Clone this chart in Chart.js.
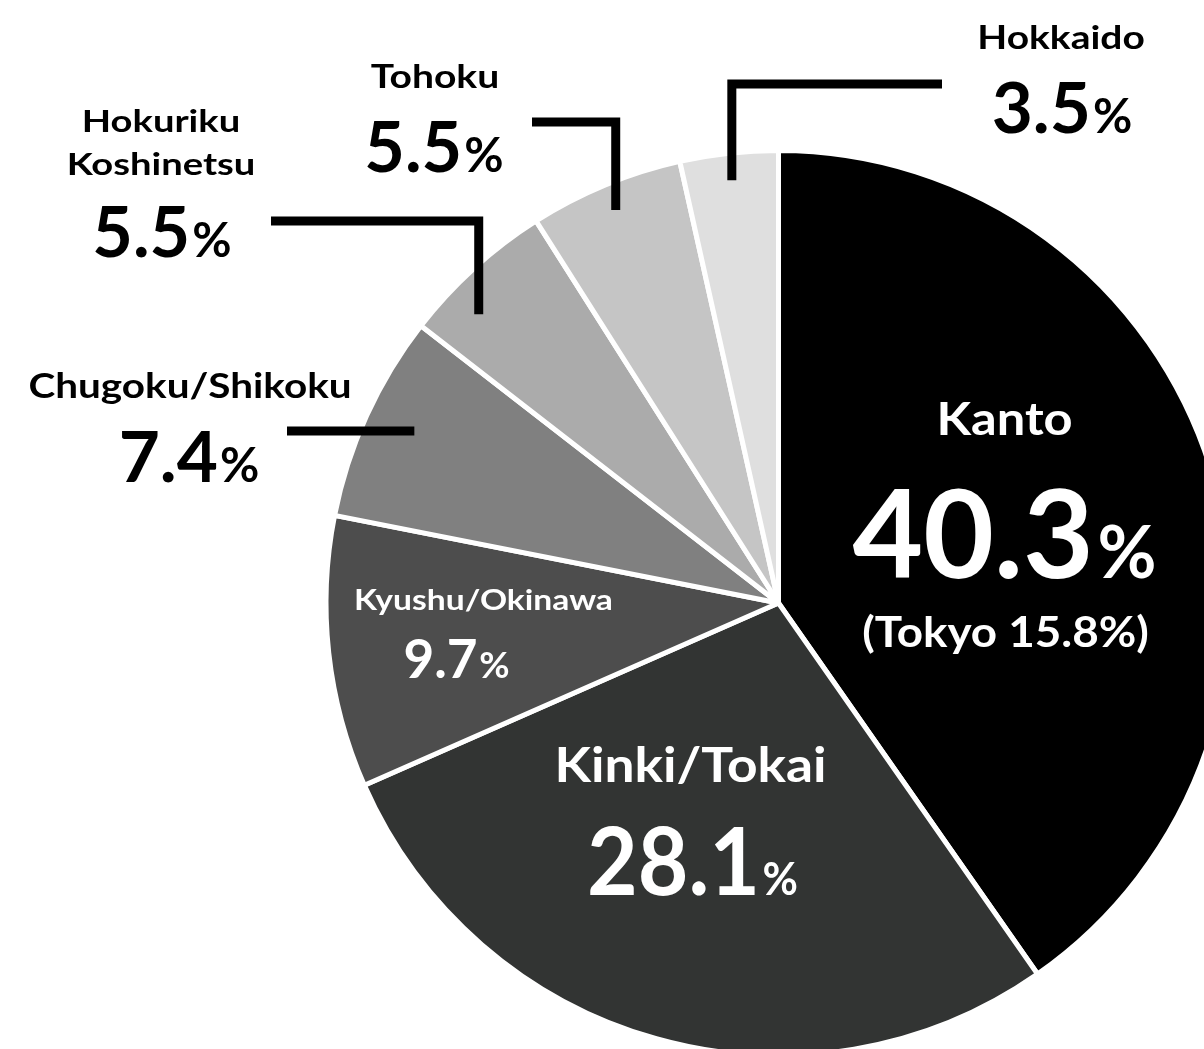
<!DOCTYPE html>
<html>
<head>
<meta charset="utf-8">
<script src="https://cdn.jsdelivr.net/npm/chart.js@4.4.1/dist/chart.umd.min.js"></script>
<style>
  html, body { margin: 0; padding: 0; background: #fff; overflow: hidden; }
  #wrap { position: relative; width: 1260px; height: 1070px; }
</style>
</head>
<body>
<div id="wrap"><canvas id="pie"></canvas></div>
<script>
// Data
const regions = ["Kanto", "Kinki/Tokai", "Kyushu/Okinawa", "Chugoku/Shikoku", "Hokuriku Koshinetsu", "Tohoku", "Hokkaido"];
const shares = [40.3, 28.1, 9.7, 7.4, 5.5, 5.5, 3.5];
const nameLines = [["Kanto"], ["Kinki/Tokai"], ["Kyushu/Okinawa"], ["Chugoku/Shikoku"], ["Hokuriku", "Koshinetsu"], ["Tohoku"], ["Hokkaido"]];
const subNote = "(Tokyo 15.8%)";
const sliceColors = ["#000000", "#323433", "#4d4d4d", "#808080", "#ababab", "#c5c5c5", "#dfdfdf"];

const FONT = "Lato, 'Open Sans', sans-serif";

// label layout: inside labels are offsets from pie centre, outside ones are page positions
// sx = horizontal stretch of the name text (the original uses a wide geometric face)
const labelLayout = [
  { inside: true, x: 226, y: -168, nameSize: 46, sx: 1.1, valX: 226, valY: -25, numSize: 122, pctSize: 72, color: "#fff" },
  { inside: true, x: -88, y: 179, nameSize: 48, sx: 1.11, valX: -86, valY: 292, numSize: 93, pctSize: 46, valSx: 0.94, color: "#fff" },
  { inside: true, x: -295, y: 7, nameSize: 28, sx: 1.2, valX: -322, valY: 75, numSize: 53, pctSize: 37, color: "#fff" },
  { inside: false, x: 190, y: 398, nameSize: 34, sx: 1.19, valX: 189, valY: 482, numSize: 71, pctSize: 48, color: "#000" },
  { inside: false, x: 161, y: 132, nameSize: 31, sx: 1.23, lineGap: 43, valX: 162, valY: 257, numSize: 70, pctSize: 48, color: "#000" },
  { inside: false, x: 435, y: 88, nameSize: 32, sx: 1.22, valX: 434, valY: 172, numSize: 70, pctSize: 48, color: "#000" },
  { inside: false, x: 1061, y: 49, nameSize: 33, sx: 1.18, valX: 1062, valY: 133, numSize: 71, pctSize: 48, color: "#000" }
];

// leader lines: t = position inside slice angle, rf = radius fraction
const leaders = [
  null, null, null,
  { t: 0.53, rf: 0.89, endX: 287 },
  { t: 0.31, rf: 0.92, elbowY: 221, endX: 271 },
  { t: 0.5, rf: 0.94, elbowY: 122, endX: 532 },
  { t: 0.5, rf: 0.94, elbowY: 84, endX: 942 }
];

function stretchText(ctx, text, x, y, sx) {
  ctx.save();
  ctx.translate(x, y);
  ctx.scale(sx, 1);
  ctx.fillText(text, 0, 0);
  ctx.restore();
}

function drawValue(ctx, value, cx, baseline, numSize, pctSize, color, sx) {
  const num = value.toFixed(1);
  ctx.font = `bold ${numSize}px ${FONT}`;
  const wNum = ctx.measureText(num).width;
  ctx.font = `bold ${pctSize}px ${FONT}`;
  const wPct = ctx.measureText("%").width;
  const gap = numSize * 0.03;
  ctx.save();
  ctx.translate(cx, baseline);
  ctx.scale(sx, 1);
  let x = -(wNum + gap + wPct) / 2;
  ctx.fillStyle = color;
  ctx.textAlign = "left";
  ctx.textBaseline = "alphabetic";
  ctx.font = `bold ${numSize}px ${FONT}`;
  ctx.fillText(num, x, 0);
  ctx.font = `bold ${pctSize}px ${FONT}`;
  ctx.fillText("%", x + wNum + gap, 0);
  ctx.restore();
}

const labelPlugin = {
  id: "sliceLabels",
  afterDatasetsDraw(chart) {
    const ctx = chart.ctx;
    const arcs = chart.getDatasetMeta(0).data;
    ctx.save();

    // leader lines
    ctx.strokeStyle = "#000";
    ctx.lineWidth = 9;
    ctx.lineCap = "butt";
    ctx.lineJoin = "miter";
    leaders.forEach((ld, i) => {
      if (!ld) return;
      const arc = arcs[i];
      const a = arc.startAngle + ld.t * (arc.endAngle - arc.startAngle);
      const r = arc.outerRadius * ld.rf;
      const px = arc.x + Math.cos(a) * r;
      const py = arc.y + Math.sin(a) * r;
      ctx.beginPath();
      ctx.moveTo(px, py);
      if (ld.elbowY != null) {
        ctx.lineTo(px, ld.elbowY);
        ctx.lineTo(ld.endX, ld.elbowY);
      } else {
        ctx.lineTo(ld.endX, py);
      }
      ctx.stroke();
    });

    // names and values
    labelLayout.forEach((lb, i) => {
      const arc = arcs[i];
      const ox = lb.inside ? arc.x : 0;
      const oy = lb.inside ? arc.y : 0;
      ctx.fillStyle = lb.color;
      ctx.textAlign = "center";
      ctx.textBaseline = "alphabetic";
      ctx.font = `bold ${lb.nameSize}px ${FONT}`;
      nameLines[i].forEach((line, j) => {
        stretchText(ctx, line, ox + lb.x, oy + lb.y + j * (lb.lineGap || 0), lb.sx);
      });
      drawValue(ctx, shares[i], ox + lb.valX, oy + lb.valY, lb.numSize, lb.pctSize, lb.color, lb.valSx || 1);
    });

    // Tokyo note under Kanto
    const k = arcs[0];
    ctx.fillStyle = "#fff";
    ctx.textAlign = "center";
    ctx.font = `bold 42px ${FONT}`;
    stretchText(ctx, subNote, k.x + 227, k.y + 44, 1.09);

    ctx.restore();
  }
};

function makeChart() {
  new Chart(document.getElementById("pie"), {
    type: "pie",
    data: {
      labels: regions,
      datasets: [{
        data: shares,
        backgroundColor: sliceColors,
        borderColor: "#ffffff",
        borderWidth: 5
      }]
    },
    options: {
      responsive: true,
      maintainAspectRatio: false,
      animation: false,
      layout: { padding: { left: 323.5, top: 148, right: 26.5, bottom: 12 } },
      plugins: {
        legend: { display: false },
        tooltip: { enabled: false }
      }
    },
    plugins: [labelPlugin]
  });
}

window.onload = () => {
  document.fonts.load(`bold 40px Lato`).then(makeChart, makeChart);
};
</script>
</body>
</html>
